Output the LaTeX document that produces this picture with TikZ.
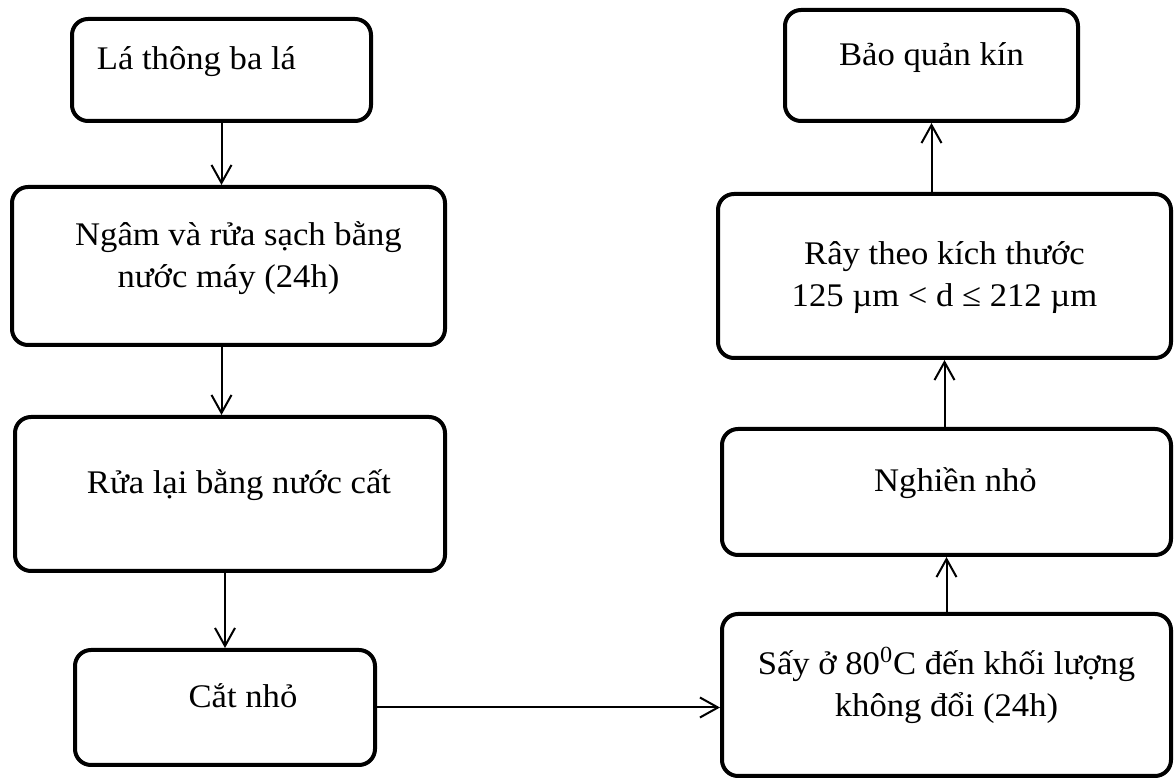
\documentclass[tikz,border=0pt]{standalone}
\usepackage{fontspec}
\setmainfont[FakeStretch=1.05]{Liberation Serif}
\usetikzlibrary{arrows.meta, positioning}
\tikzset{
    stepbox/.style={draw, line width=2pt, rounded corners=8pt, align=center, inner sep=0pt,
        font=\fontsize{16.5}{21}\selectfont, text height=10pt, text depth=10pt},
    twoline/.style={text height=32pt, text depth=10pt},
    flow/.style={-{Straight Barb[length=9pt, width=10pt]}, line width=1pt}
}

\begin{document}
\begin{tikzpicture}[x=0.5pt, y=-0.5pt]
    \useasboundingbox (0,0) rectangle (1174,780);
    % left column
    \node[stepbox, minimum width=149.5pt, minimum height=51pt] (la) at (221.5,70) {Lá thông ba lá\hspace*{25pt}};
    \node[stepbox, twoline, minimum width=216.5pt, minimum height=79pt] (ngam) at (228.5,266) {\hspace*{10pt}Ngâm và rửa sạch bằng\\nước máy (24h)};
    \node[stepbox, minimum width=215pt, minimum height=77pt] (rua) at (230,494) {\hspace*{9pt}Rửa lại bằng nước cất};
    \node[stepbox, minimum width=150pt, minimum height=57.5pt] (cat) at (225,707.5) {\hspace*{18pt}Cắt nhỏ};
    % right column
    \node[stepbox, twoline, minimum width=224.5pt, minimum height=81pt] (say) at (946.5,695) {Sấy ở 80\textsuperscript{0}C đến khối lượng\\không đổi (24h)};
    \node[stepbox, minimum width=224.5pt, minimum height=63pt] (nghien) at (946.5,492) {\hspace*{9pt}Nghiền nhỏ};
    \node[stepbox, text height=41pt, minimum width=226.5pt, minimum height=82pt] (ray) at (944.5,276) {Rây theo kích thước\\125 µm < d ≤ 212 µm};
    \node[stepbox, minimum width=146.5pt, minimum height=55.5pt] (baoquan) at (931.5,65.5) {Bảo quản kín};
    % arrows
    \draw[flow] (la) -- (la |- ngam.north);
    \draw[flow] (ngam.south -| la) -- (rua.north -| la);
    \draw[flow] (rua.south -| cat) -- (cat);
    \draw[flow] (cat) -- (cat -| say.west);
    \draw[flow] (say) -- (say |- nghien.south);
    \draw[flow] (nghien.north -| ray) -- (ray);
    \draw[flow] (ray.north -| baoquan) -- (baoquan);
\end{tikzpicture}
\end{document}
